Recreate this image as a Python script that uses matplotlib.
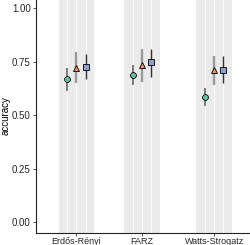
import matplotlib
matplotlib.use("Agg")
import matplotlib.pyplot as plt

plt.rcParams['font.family'] = ['Liberation Sans', 'DejaVu Sans']

# data
graphs = ["Erdős-Rényi", "FARZ", "Watts-Strogatz"]
methods = ["m1", "m2", "m3"]
mean = {
    "m1": [0.667, 0.687, 0.586],
    "m2": [0.721, 0.734, 0.710],
    "m3": [0.726, 0.746, 0.713],
}
low = {
    "m1": [0.612, 0.640, 0.544],
    "m2": [0.650, 0.656, 0.643],
    "m3": [0.668, 0.679, 0.648],
}
high = {
    "m1": [0.720, 0.734, 0.628],
    "m2": [0.794, 0.811, 0.776],
    "m3": [0.785, 0.811, 0.776],
}

# layout
xpos = [0, 1, 2.095]
dodge = [-0.141, 0, 0.141]
colors = {"m1": "#66c2a5", "m2": "#fc8d62", "m3": "#8da0cb"}
markers = {"m1": "o", "m2": "^", "m3": "s"}
msize = {"m1": 4.2, "m2": 4.6, "m3": 4.4}
barcol = {"m1": "#5a5a5a", "m2": "#9a9a9a", "m3": "#333333"}
barlw = {"m1": 1.1, "m2": 1.7, "m3": 1.0}

fig = plt.figure(figsize=(2.5, 2.45), dpi=100)
ax = fig.add_axes([36 / 250, 12 / 245, 214 / 250, 235.7 / 245])

for x in xpos:
    ax.axvspan(x - 0.27, x + 0.27, color="#ebebeb", lw=0, zorder=0)
    for d in dodge:
        ax.axvline(x + d, color="white", lw=0.6, zorder=0.5)

for j, m in enumerate(methods):
    xs = [x + dodge[j] for x in xpos]
    ax.vlines(xs, low[m], high[m], color=barcol[m], lw=barlw[m], zorder=2)
    ax.plot(xs, mean[m], ls="none", marker=markers[m], ms=msize[m],
            mfc=colors[m], mec="black", mew=0.6, zorder=3)

ax.set_xlim(-0.612, 2.64)
ax.set_ylim(-0.05, 1.05)
ax.set_yticks([0, 0.25, 0.5, 0.75, 1.0])
ax.set_yticklabels(["0.00", "0.25", "0.50", "0.75", "1.00"])
ax.set_xticks(xpos)
ax.set_xticklabels(graphs)
ax.tick_params(axis="y", labelsize=7, colors="#333333", length=2.2, width=0.6, pad=1.5)
ax.tick_params(axis="x", labelsize=6.5, colors="#333333", length=2.0, width=0.6, pad=0.6)
ax.tick_params(axis="both", labelcolor="#262626")
ax.set_ylabel("accuracy", fontsize=7)
ax.yaxis.set_label_coords(-0.12, 0.5)

for s in ["top", "right"]:
    ax.spines[s].set_visible(False)
for s in ["left", "bottom"]:
    ax.spines[s].set_linewidth(0.8)
    ax.spines[s].set_color("#222222")

fig.savefig("out.png", dpi=100)
